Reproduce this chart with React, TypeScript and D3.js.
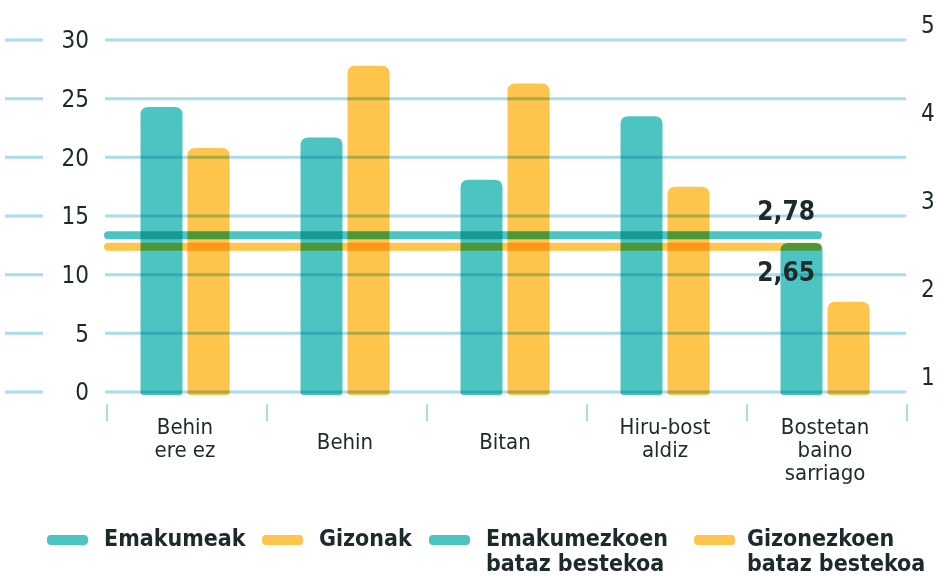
import React from "react";
import * as d3 from "d3";

const categories = [
  ["Behin", "ere ez"],
  ["Behin"],
  ["Bitan"],
  ["Hiru-bost", "aldiz"],
  ["Bostetan", "baino", "sarriago"],
];
const emakumeak = [24.3, 21.7, 18.1, 23.5, 12.7];
const gizonak = [20.8, 27.8, 26.3, 17.5, 7.7];
const leftTicks = [0, 5, 10, 15, 20, 25, 30];
const rightTicks = [1, 2, 3, 4, 5];
const emakumeMean = 2.78;
const gizonMean = 2.65;

const W = 939;
const H = 576;
const TEAL = "#4cc5c2";
const YELLOW = "#ffc44b";
const GRID = "#a9dce9";
const INK = "#1c2a2b";
const FONT = "'Liberation Sans Narrow', 'DejaVu Sans Condensed', 'Roboto', sans-serif";

function barPath(x: number, y: number, w: number, h: number, r: number) {
  const p = d3.path();
  p.moveTo(x, y + h);
  p.lineTo(x, y + r);
  p.quadraticCurveTo(x, y, x + r, y);
  p.lineTo(x + w - r, y);
  p.quadraticCurveTo(x + w, y, x + w, y + r);
  p.lineTo(x + w, y + h);
  p.quadraticCurveTo(x + w, y + h + 3, x + w - 3, y + h + 3);
  p.lineTo(x + 3, y + h + 3);
  p.quadraticCurveTo(x, y + h + 3, x, y + h);
  p.closePath();
  return p.toString();
}

export default function App() {
  const y = d3.scaleLinear().domain([0, 30]).range([392, 40]);
  const y2 = d3.scaleLinear().domain([1, 5]).range([392, 40]);
  const x = d3
    .scaleBand<number>()
    .domain(d3.range(categories.length))
    .range([105, 905]);
  const barW = 42;
  const gap = 5;

  const legend = [
    { c: TEAL, lines: ["Emakumeak"], sx: 47, tx: 104 },
    { c: YELLOW, lines: ["Gizonak"], sx: 262, tx: 319 },
    { c: TEAL, lines: ["Emakumezkoen", "bataz bestekoa"], sx: 429, tx: 486 },
    { c: YELLOW, lines: ["Gizonezkoen", "bataz bestekoa"], sx: 694, tx: 747 },
  ];

  return (
    <svg
      width={W}
      height={H}
      style={{ position: "absolute", left: 0, top: 0, background: "#fff" }}
      fontFamily={FONT}
    >
      {/* grid + left axis */}
      {leftTicks.map((t) => (
        <g key={t}>
          <line x1={5} x2={43} y1={y(t)} y2={y(t)} stroke={GRID} strokeWidth={3} />
          <line x1={105} x2={906} y1={y(t)} y2={y(t)} stroke={GRID} strokeWidth={3} />
          <text
            x={89}
            y={y(t)}
            dy="0.35em"
            textAnchor="end"
            fontSize={24}
            fill={INK}
          >
            {t}
          </text>
        </g>
      ))}
      {rightTicks.map((t) => (
        <text key={t} x={921} y={y2(t) - 15} dy="0.35em" fontSize={24} fill={INK}>
          {t}
        </text>
      ))}

      {/* bars */}
      {emakumeak.map((v, i) => {
        const cx = (x(i) as number) + x.bandwidth() / 2;
        return (
          <g key={i} style={{ mixBlendMode: "multiply" }}>
            <path d={barPath(cx - gap / 2 - barW, y(v), barW, y(0) - y(v), 8)} fill={TEAL} />
            <path d={barPath(cx + gap / 2, y(gizonak[i]), barW, y(0) - y(gizonak[i]), 8)} fill={YELLOW} />
          </g>
        );
      })}

      {/* mean lines */}
      <line
        x1={108}
        x2={818}
        y1={y2(emakumeMean)}
        y2={y2(emakumeMean)}
        stroke={TEAL}
        strokeWidth={8}
        strokeLinecap="round"
        style={{ mixBlendMode: "multiply" }}
      />
      <line
        x1={108}
        x2={818}
        y1={y2(gizonMean)}
        y2={y2(gizonMean)}
        stroke={YELLOW}
        strokeWidth={8}
        strokeLinecap="round"
        style={{ mixBlendMode: "multiply" }}
      />
      <text x={815} y={y2(emakumeMean) - 24} dy="0.35em" textAnchor="end" fontSize={26} fontWeight="bold" fill={INK}>
        {String(emakumeMean).replace(".", ",")}
      </text>
      <text x={815} y={y2(gizonMean) + 25} dy="0.35em" textAnchor="end" fontSize={26} fontWeight="bold" fill={INK}>
        {String(gizonMean).replace(".", ",")}
      </text>

      {/* x axis ticks and labels */}
      {d3.range(categories.length + 1).map((i) => {
        const xx = i < categories.length ? (x(i) as number) : 905;
        return (
          <line key={i} x1={xx + 2} x2={xx + 2} y1={404} y2={421} stroke={GRID} strokeWidth={2} />
        );
      })}
      {categories.map((lines, i) => {
        const cx = (x(i) as number) + x.bandwidth() / 2;
        const top = lines.length === 1 ? 441 : 426;
        return (
          <text key={i} textAnchor="middle" fontSize={22} fill={INK}>
            {lines.map((l, j) => (
              <tspan key={j} x={cx} y={top + j * 23} dy="0.35em">
                {l}
              </tspan>
            ))}
          </text>
        );
      })}

      {/* legend */}
      {legend.map((d, i) => (
        <g key={i}>
          <rect x={d.sx} y={535} width={41} height={10} rx={4} fill={d.c} />
          <text fontSize={23} fontWeight="bold" fill={INK}>
            {d.lines.map((l, j) => (
              <tspan key={j} x={d.tx} y={538 + j * 25} dy="0.35em">
                {l}
              </tspan>
            ))}
          </text>
        </g>
      ))}
    </svg>
  );
}
